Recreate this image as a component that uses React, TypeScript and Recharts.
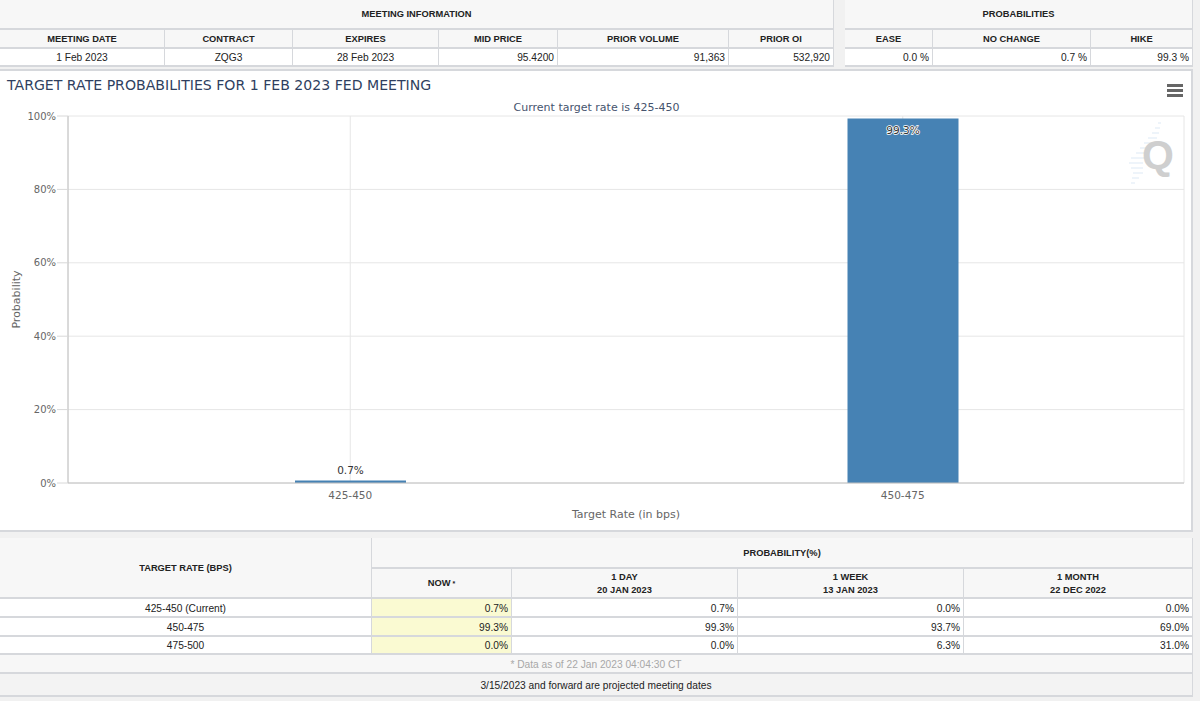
import React from 'react'
import { BarChart, Bar, XAxis, YAxis, CartesianGrid, LabelList } from 'recharts'

const rateLabels = ['425-450', '450-475']
const rateProbs = [0.7, 99.3]
const yTicks = [0, 20, 40, 60, 80, 100]

const meetingHeaders = ['MEETING DATE', 'CONTRACT', 'EXPIRES', 'MID PRICE', 'PRIOR VOLUME', 'PRIOR OI']
const meetingValues = ['1 Feb 2023', 'ZQG3', '28 Feb 2023', '95.4200', '91,363', '532,920']
const meetingAlign = ['center', 'center', 'center', 'right', 'right', 'right']
const meetingEdges = [0, 165, 293, 439, 558, 729, 834]

const probHeaders = ['EASE', 'NO CHANGE', 'HIKE']
const probValues = ['0.0 %', '0.7 %', '99.3 %']
const probEdges = [845, 933, 1091, 1193]

const targetRows = ['425-450 (Current)', '450-475', '475-500']
const nowValues = ['0.7%', '99.3%', '0.0%']
const dayValues = ['0.7%', '99.3%', '0.0%']
const weekValues = ['0.0%', '93.7%', '6.3%']
const monthValues = ['0.0%', '69.0%', '31.0%']
const rowEdges = [599, 618, 637, 655]

// faint streaks behind the Q watermark: [left, top, width]
const logoStreaks = [
  [1158, 122, 3], [1155, 127, 5], [1152, 132, 7], [1148, 137, 9], [1144, 142, 10],
  [1140, 147, 11], [1136, 152, 12], [1131, 157, 14], [1129, 162, 14], [1131, 167, 12],
  [1133, 172, 10], [1132, 177, 7], [1131, 182, 4],
]

const chartData = rateLabels.map((rate, i) => ({ rate, prob: rateProbs[i] }))

const BORDER = '#d6d8dc'
const HEAD_BG = '#f7f7f7'
const HEAD_SIZE = 9.3
const BODY_SIZE = 10.2

type CellProps = {
  x0: number
  x1: number
  y0: number
  y1: number
  bg?: string
  align?: string
  bold?: boolean
  color?: string
  size?: number
  children?: React.ReactNode
}

function Cell({ x0, x1, y0, y1, bg = '#fff', align = 'center', bold, color = '#222', size = BODY_SIZE, children }: CellProps) {
  return (
    <div
      style={{
        position: 'absolute', left: x0, top: y0, width: x1 - x0, height: y1 - y0,
        boxSizing: 'border-box', background: bg,
        borderRight: `1px solid ${BORDER}`, borderBottom: `2px solid ${BORDER}`,
        display: 'flex', alignItems: 'center',
        justifyContent: align === 'right' ? 'flex-end' : 'center',
        textAlign: 'center', padding: align === 'right' ? '1px 3px 0 0' : '1px 0 0 0',
        fontFamily: '"Liberation Sans", Arial, sans-serif', fontSize: size,
        fontWeight: bold ? 700 : 400, color, lineHeight: '13px', whiteSpace: 'pre-line',
      }}
    >
      {children}
    </div>
  )
}

// data label: small bars get it above, tall bars inside the top
function BarLabel(props: any) {
  const { x, y, width, value } = props
  const inside = value > 50
  return (
    <text
      x={x + width / 2}
      y={inside ? y + 15 : y - 6}
      textAnchor="middle"
      fontSize={10.5}
      fontFamily='"DejaVu Sans", sans-serif'
      fill="#333"
      stroke="#fff"
      strokeWidth={inside ? 1.5 : 0}
      style={{ paintOrder: 'stroke' }}
    >
      {`${value}%`}
    </text>
  )
}

const axisTick = { fill: '#666', fontSize: 10, fontFamily: '"DejaVu Sans", sans-serif' }
const axisTitle = { fill: '#666', fontSize: 11, fontFamily: '"DejaVu Sans", sans-serif' }

export default function App() {
  return (
    <div style={{ position: 'fixed', left: 0, top: 0, width: 1200, height: 701, overflow: 'hidden', background: '#f1f1f1' }}>
      {/* meeting info */}
      <Cell x0={0} x1={834} y0={0} y1={30} bg={HEAD_BG} bold size={HEAD_SIZE}>MEETING INFORMATION</Cell>
      {meetingHeaders.map((h, i) => (
        <Cell key={h} x0={meetingEdges[i]} x1={meetingEdges[i + 1]} y0={30} y1={49} bg={HEAD_BG} bold size={HEAD_SIZE}>{h}</Cell>
      ))}
      {meetingValues.map((v, i) => (
        <Cell key={meetingHeaders[i]} x0={meetingEdges[i]} x1={meetingEdges[i + 1]} y0={49} y1={67} align={meetingAlign[i]}>{v}</Cell>
      ))}

      {/* probabilities */}
      <Cell x0={845} x1={1193} y0={0} y1={30} bg={HEAD_BG} bold size={HEAD_SIZE}>PROBABILITIES</Cell>
      {probHeaders.map((h, i) => (
        <Cell key={h} x0={probEdges[i]} x1={probEdges[i + 1]} y0={30} y1={49} bg={HEAD_BG} bold size={HEAD_SIZE}>{h}</Cell>
      ))}
      {probValues.map((v, i) => (
        <Cell key={probHeaders[i]} x0={probEdges[i]} x1={probEdges[i + 1]} y0={49} y1={67} align="right">{v}</Cell>
      ))}

      {/* chart frame */}
      <div style={{ position: 'absolute', left: 0, top: 69, width: 1193, height: 463, boxSizing: 'border-box', background: '#fff', border: '2px solid #d6d8dc', borderLeft: 'none' }} />
      <div style={{ position: 'absolute', left: 0, top: 71, width: 1193 }}>
        <BarChart width={1193} height={460} data={chartData} margin={{ top: 45, right: 9, bottom: 0, left: 0 }} barCategoryGap={0}>
          <CartesianGrid stroke="#e6e6e6" />
          <XAxis
            dataKey="rate"
            height={48}
            padding={{ left: 6, right: 5 }}
            tick={{ ...axisTick, fontSize: 10.5, dy: 1 }}
            tickLine={false}
            axisLine={{ stroke: '#c0c0c0' }}
            label={{ value: 'Target Rate (in bps)', position: 'insideBottom', offset: 13, ...axisTitle }}
          />
          <YAxis
            domain={[0, 100]}
            ticks={yTicks}
            width={68}
            tickFormatter={v => `${v}%`}
            tick={axisTick}
            tickSize={11}
            tickMargin={1}
            tickLine={{ stroke: '#d8d8d8' }}
            axisLine={{ stroke: '#c0c0c0' }}
            label={{ value: 'Probability', angle: -90, position: 'insideLeft', offset: 16, textAnchor: 'middle', ...axisTitle }}
          />
          <Bar dataKey="prob" fill="#4682b4" barSize={111} isAnimationActive={false}>
            <LabelList dataKey="prob" content={BarLabel} />
          </Bar>
        </BarChart>
      </div>
      <div style={{ position: 'absolute', left: 7, top: 77, fontFamily: '"DejaVu Sans", sans-serif', fontSize: 14.1, color: '#2f3f5f', whiteSpace: 'nowrap' }}>
        TARGET RATE PROBABILITIES FOR 1 FEB 2023 FED MEETING
      </div>
      <div style={{ position: 'absolute', left: 0, width: 1193, top: 101, textAlign: 'center', fontFamily: '"DejaVu Sans", sans-serif', fontSize: 11, color: '#46546e' }}>
        Current target rate is 425-450
      </div>

      {/* export menu */}
      {[84, 89, 94].map(t => (
        <div key={t} style={{ position: 'absolute', left: 1167, top: t, width: 16, height: 3, background: '#666' }} />
      ))}

      {/* watermark */}
      {logoStreaks.map(([l, t, w]) => (
        <div key={t} style={{ position: 'absolute', left: l, top: t, width: w, height: 2, background: '#eef4fa' }} />
      ))}
      <div style={{ position: 'absolute', left: 1142, top: 129, fontFamily: '"Liberation Sans", sans-serif', fontWeight: 700, fontSize: 41, lineHeight: '52px', color: '#cfcfcf' }}>Q</div>

      {/* probability table */}
      <Cell x0={0} x1={372} y0={538} y1={599} bg={HEAD_BG} bold size={HEAD_SIZE}>TARGET RATE (BPS)</Cell>
      <Cell x0={372} x1={1193} y0={538} y1={569} bg={HEAD_BG} bold size={HEAD_SIZE}>PROBABILITY(%)</Cell>
      <Cell x0={372} x1={512} y0={569} y1={599} bg={HEAD_BG} bold size={HEAD_SIZE}>NOW <sup style={{ fontSize: 7, marginLeft: 2 }}>*</sup></Cell>
      <Cell x0={512} x1={738} y0={569} y1={599} bg={HEAD_BG} bold size={HEAD_SIZE}>{'1 DAY\n20 JAN 2023'}</Cell>
      <Cell x0={738} x1={964} y0={569} y1={599} bg={HEAD_BG} bold size={HEAD_SIZE}>{'1 WEEK\n13 JAN 2023'}</Cell>
      <Cell x0={964} x1={1193} y0={569} y1={599} bg={HEAD_BG} bold size={HEAD_SIZE}>{'1 MONTH\n22 DEC 2022'}</Cell>
      {targetRows.map((r, i) => (
        <React.Fragment key={r}>
          <Cell x0={0} x1={372} y0={rowEdges[i]} y1={rowEdges[i + 1]}>{r}</Cell>
          <Cell x0={372} x1={512} y0={rowEdges[i]} y1={rowEdges[i + 1]} bg="#fafad2" align="right">{nowValues[i]}</Cell>
          <Cell x0={512} x1={738} y0={rowEdges[i]} y1={rowEdges[i + 1]} align="right">{dayValues[i]}</Cell>
          <Cell x0={738} x1={964} y0={rowEdges[i]} y1={rowEdges[i + 1]} align="right">{weekValues[i]}</Cell>
          <Cell x0={964} x1={1193} y0={rowEdges[i]} y1={rowEdges[i + 1]} align="right">{monthValues[i]}</Cell>
        </React.Fragment>
      ))}
      <Cell x0={0} x1={1193} y0={655} y1={674} bg={HEAD_BG} color="#a8a8a8">* Data as of 22 Jan 2023 04:04:30 CT</Cell>
      <Cell x0={0} x1={1193} y0={674} y1={697} bg="#f3f3f3">3/15/2023 and forward are projected meeting dates</Cell>
    </div>
  )
}
